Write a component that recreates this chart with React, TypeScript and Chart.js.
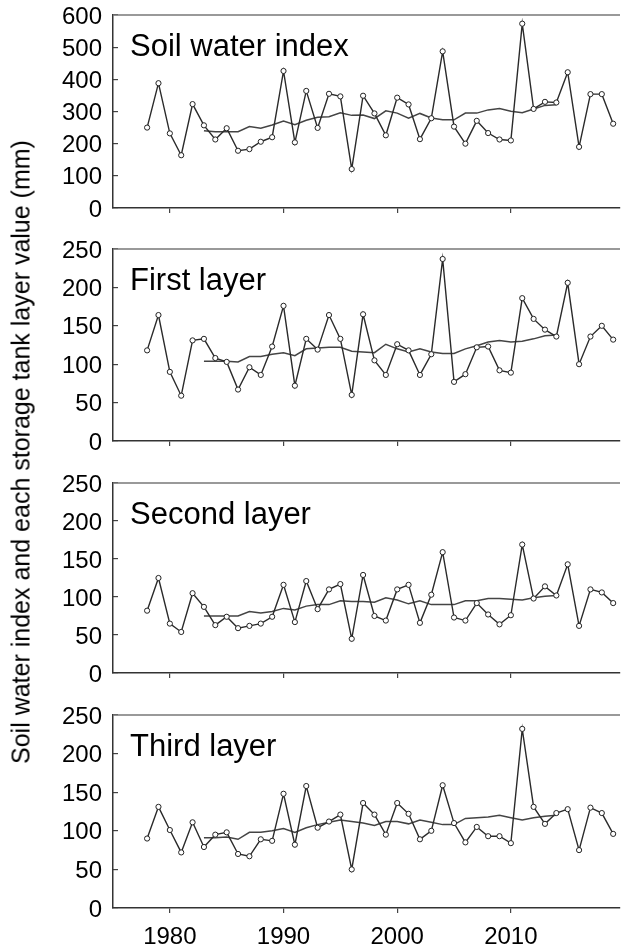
import React, { useEffect, useRef } from "react";
import { Chart, registerables } from "chart.js";

Chart.register(...registerables);

// ---------- data ----------
const years = [
  1978, 1979, 1980, 1981, 1982, 1983, 1984, 1985, 1986, 1987, 1988, 1989, 1990, 1991,
  1992, 1993, 1994, 1995, 1996, 1997, 1998, 1999, 2000, 2001, 2002, 2003, 2004, 2005,
  2006, 2007, 2008, 2009, 2010, 2011, 2012, 2013, 2014, 2015, 2016, 2017, 2018, 2019,
];
const maYears = [
  1983, 1984, 1985, 1986, 1987, 1988, 1989, 1990, 1991, 1992, 1993, 1994, 1995, 1996,
  1997, 1998, 1999, 2000, 2001, 2002, 2003, 2004, 2005, 2006, 2007, 2008, 2009, 2010,
  2011, 2012, 2013, 2014,
];

const soilWaterIndex = [
  250, 388, 232, 164, 323, 257, 213, 248, 178, 183, 206, 220, 426, 204, 364, 249, 355, 347,
  121, 349, 294, 226, 343, 322, 214, 279, 487, 253, 200, 271, 233, 213, 210, 573, 308, 330,
  328, 422, 190, 354, 354, 262,
];
const soilWaterIndexMA = [
  240, 237, 237, 237, 253, 248, 258, 270, 259, 273, 282, 284, 296, 288, 289, 278, 302, 295,
  279, 294, 280, 274, 274, 295, 295, 305, 309, 301, 296, 308, 319, 321,
];

const firstLayer = [
  118, 164, 90, 59, 131, 133, 108, 103, 67, 96, 86, 123, 176, 72, 133, 119, 164, 133, 60,
  165, 105, 86, 126, 118, 86, 113, 237, 77, 87, 122, 123, 92, 89, 186, 159, 145, 136, 206,
  100, 136, 150, 132,
];
const firstLayerMA = [
  104, 104, 104, 103, 110, 110, 113, 115, 111, 120, 121, 122, 122, 117, 116, 115, 126, 120,
  116, 120, 116, 114, 114, 120, 124, 129, 131, 129, 130, 133, 137, 138,
];

const secondLayer = [
  82, 125, 65, 54, 105, 87, 63, 74, 59, 62, 65, 74, 116, 67, 121, 84, 110, 117, 45, 129, 75,
  69, 110, 116, 66, 103, 159, 73, 69, 92, 77, 64, 76, 169, 98, 114, 102, 143, 62, 110, 106, 92,
];
const secondLayerMA = [
  75, 75, 75, 75, 81, 79, 81, 85, 83, 88, 90, 90, 95, 94, 94, 93, 99, 96, 91, 95, 90, 90, 90,
  95, 95, 98, 98, 97, 96, 99, 101, 102,
];

const thirdLayer = [
  90, 131, 101, 72, 111, 79, 95, 98, 70, 67, 89, 87, 148, 82, 158, 104, 112, 121, 50, 136,
  121, 95, 136, 122, 89, 100, 159, 110, 85, 105, 93, 93, 84, 232, 131, 109, 123, 128, 75, 130,
  123, 96,
];
const thirdLayerMA = [
  91, 91, 92, 89, 98, 98, 100, 103, 98, 104, 108, 111, 114, 112, 110, 107, 112, 112, 109, 114,
  111, 108, 108, 116, 117, 118, 120, 117, 114, 117, 119, 120,
];

const xTickYears = [1980, 1990, 2000, 2010];
const panelTitles = ["Soil water index", "First layer", "Second layer", "Third layer"];
const yMaxes = [600, 250, 250, 250];
const ySteps = [100, 50, 50, 50];
const yAxisTitle = "Soil water index and each storage tank layer value (mm)";

// ---------- layout ----------
const W = 625;
const PAD_TOP = 15;
const Y_AXIS_W = 113;
const panelTops = [15, 249, 483, 715];
const panelHeights = [193, 192, 190, 193];
const FONT = '"Liberation Sans", Arial, sans-serif';

type PanelProps = {
  idx: number;
  values: number[];
  ma: number[];
  last: boolean;
};

function Panel({ idx, values, ma, last }: PanelProps) {
  const ref = useRef<HTMLCanvasElement | null>(null);
  const xAxisH = last ? 40 : 15;
  const height = PAD_TOP + panelHeights[idx] + xAxisH;
  const top = panelTops[idx] - PAD_TOP;

  useEffect(() => {
    if (!ref.current) return;
    const title = panelTitles[idx];
    const framePlugin = {
      id: "frame" + idx,
      afterDraw(chart: any) {
        const { ctx, chartArea } = chart;
        ctx.save();
        ctx.strokeStyle = "#777";
        ctx.lineWidth = 1.5;
        ctx.beginPath();
        ctx.moveTo(chartArea.left, chartArea.top);
        ctx.lineTo(chartArea.right, chartArea.top);
        ctx.stroke();
        ctx.fillStyle = "#000";
        ctx.font = `31px ${FONT}`;
        ctx.textAlign = "left";
        ctx.textBaseline = "alphabetic";
        ctx.fillText(title, 130, chartArea.top + 40.5);
        ctx.restore();
      },
    };
    const chart = new Chart(ref.current, {
      type: "line",
      data: {
        datasets: [
          {
            data: years.map((y, i) => ({ x: y, y: values[i] })),
            borderColor: "#2a2a2a",
            borderWidth: 1.4,
            pointRadius: 2.6,
            pointBackgroundColor: "#fff",
            pointBorderColor: "#222",
            pointBorderWidth: 1,
            tension: 0,
          },
          {
            data: maYears.map((y, i) => ({ x: y, y: ma[i] })),
            borderColor: "#444",
            borderWidth: 1.5,
            pointRadius: 0,
            tension: 0,
          },
        ],
      },
      options: {
        animation: false,
        responsive: false,
        maintainAspectRatio: false,
        layout: { padding: { top: PAD_TOP, left: 0, right: 0, bottom: 0 } },
        plugins: { legend: { display: false }, tooltip: { enabled: false } },
        scales: {
          x: {
            type: "linear",
            position: "bottom",
            min: 1975,
            max: 2019.6,
            afterBuildTicks: (s: any) => {
              s.ticks = xTickYears.map((v) => ({ value: v }));
            },
            afterFit: (s: any) => {
              s.height = xAxisH;
              s.paddingLeft = 0;
              s.paddingRight = 0;
            },
            grid: {
              display: true,
              drawOnChartArea: false,
              drawTicks: true,
              tickLength: 5,
              color: "#444",
              lineWidth: 1.2,
            },
            border: { display: true, color: "#333", width: 1.5 },
            ticks: {
              display: last,
              autoSkip: false,
              maxRotation: 0,
              padding: 10,
              color: "#000",
              font: { family: FONT, size: 24 },
              callback: (v: any) => String(v),
            },
          },
          y: {
            type: "linear",
            position: "left",
            min: 0,
            max: yMaxes[idx],
            afterFit: (s: any) => {
              s.width = Y_AXIS_W;
              s.paddingTop = 0;
              s.paddingBottom = 0;
            },
            grid: {
              display: true,
              drawOnChartArea: false,
              drawTicks: true,
              tickLength: -5,
              color: "#444",
              lineWidth: 1.2,
            },
            border: { display: true, color: "#333", width: 1.5 },
            ticks: {
              stepSize: ySteps[idx],
              padding: 16,
              labelOffset: 2,
              color: "#000",
              font: { family: FONT, size: 24 },
            },
          },
        },
      } as any,
      plugins: [framePlugin],
    });
    return () => chart.destroy();
  }, []);

  return (
    <canvas
      ref={ref}
      width={W}
      height={height}
      style={{ position: "absolute", left: 0, top, width: W, height }}
    />
  );
}

export default function App() {
  const series = [soilWaterIndex, firstLayer, secondLayer, thirdLayer];
  const mas = [soilWaterIndexMA, firstLayerMA, secondLayerMA, thirdLayerMA];
  return (
    <div
      style={{
        position: "absolute",
        left: 0,
        top: 0,
        width: W,
        height: 950,
        background: "#fff",
        overflow: "hidden",
      }}
    >
      {series.map((v, i) => (
        <Panel key={i} idx={i} values={v} ma={mas[i]} last={i === 3} />
      ))}
      <div
        style={{
          position: "absolute",
          left: 21,
          top: 452,
          transform: "translate(-50%, -50%) rotate(-90deg)",
          whiteSpace: "nowrap",
          fontFamily: FONT,
          fontSize: 25,
          color: "#000",
        }}
      >
        {yAxisTitle}
      </div>
    </div>
  );
}
